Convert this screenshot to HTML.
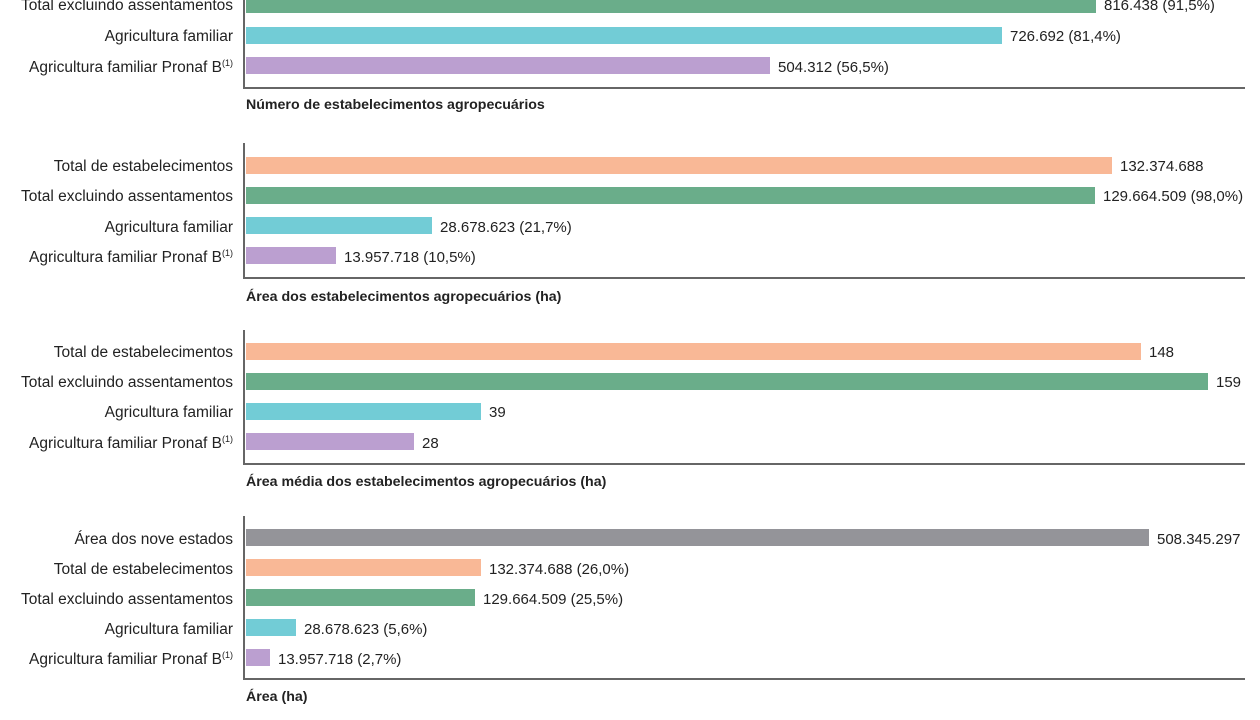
<!DOCTYPE html>
<html><head><meta charset="utf-8"><style>
body{margin:0;width:1260px;height:720px;background:#fff;position:relative;overflow:hidden;font-family:"Liberation Sans",sans-serif;color:#222;}
.l{position:absolute;right:1027px;font-size:15.5px;line-height:18px;white-space:nowrap;}
.b{position:absolute;left:246px;height:17px;}
.v{position:absolute;font-size:15px;line-height:18px;white-space:nowrap;}
.ax{position:absolute;background:#666;}
.t{position:absolute;left:246px;font-size:14.2px;font-weight:bold;white-space:nowrap;}
sup{font-size:9px;vertical-align:6px;line-height:0}
.o{background:#f9b896}.g{background:#6aad8a}.c{background:#72ccd6}.p{background:#bb9fd0}.gr{background:#949499}
</style></head><body>
<div class="ax" style="left:243px;top:0;width:2px;height:89px"></div>
<div class="ax" style="left:243px;top:87px;width:1002px;height:2px"></div>
<div class="l" style="top:-3px">Total excluindo assentamentos</div><div class="b g" style="top:-4px;width:850px"></div><div class="v" style="left:1104px;top:-3px">816.438 (91,5%)</div>
<div class="l" style="top:28px">Agricultura familiar</div><div class="b c" style="top:27px;width:756px"></div><div class="v" style="left:1010px;top:28px">726.692 (81,4%)</div>
<div class="l" style="top:59px">Agricultura familiar Pronaf B<sup>(1)</sup></div><div class="b p" style="top:57px;width:524px"></div><div class="v" style="left:778px;top:59px">504.312 (56,5%)</div>
<div class="t" style="top:97px">Número de estabelecimentos agropecuários</div>

<div class="ax" style="left:243px;top:143px;width:2px;height:136px"></div>
<div class="ax" style="left:243px;top:277px;width:1002px;height:2px"></div>
<div class="l" style="top:158px">Total de estabelecimentos</div><div class="b o" style="top:157px;width:866px"></div><div class="v" style="left:1120px;top:158px">132.374.688</div>
<div class="l" style="top:188px">Total excluindo assentamentos</div><div class="b g" style="top:187px;width:849px"></div><div class="v" style="left:1103px;top:188px">129.664.509 (98,0%)</div>
<div class="l" style="top:219px">Agricultura familiar</div><div class="b c" style="top:217px;width:186px"></div><div class="v" style="left:440px;top:219px">28.678.623 (21,7%)</div>
<div class="l" style="top:249px">Agricultura familiar Pronaf B<sup>(1)</sup></div><div class="b p" style="top:247px;width:90px"></div><div class="v" style="left:344px;top:249px">13.957.718 (10,5%)</div>
<div class="t" style="top:289px">Área dos estabelecimentos agropecuários (ha)</div>

<div class="ax" style="left:243px;top:330px;width:2px;height:135px"></div>
<div class="ax" style="left:243px;top:463px;width:1002px;height:2px"></div>
<div class="l" style="top:344px">Total de estabelecimentos</div><div class="b o" style="top:343px;width:895px"></div><div class="v" style="left:1149px;top:344px">148</div>
<div class="l" style="top:374px">Total excluindo assentamentos</div><div class="b g" style="top:373px;width:962px"></div><div class="v" style="left:1216px;top:374px">159</div>
<div class="l" style="top:404px">Agricultura familiar</div><div class="b c" style="top:403px;width:235px"></div><div class="v" style="left:489px;top:404px">39</div>
<div class="l" style="top:435px">Agricultura familiar Pronaf B<sup>(1)</sup></div><div class="b p" style="top:433px;width:168px"></div><div class="v" style="left:422px;top:435px">28</div>
<div class="t" style="top:474px">Área média dos estabelecimentos agropecuários (ha)</div>

<div class="ax" style="left:243px;top:516px;width:2px;height:164px"></div>
<div class="ax" style="left:243px;top:678px;width:1002px;height:2px"></div>
<div class="l" style="top:531px">Área dos nove estados</div><div class="b gr" style="top:529px;width:903px"></div><div class="v" style="left:1157px;top:531px">508.345.297</div>
<div class="l" style="top:561px">Total de estabelecimentos</div><div class="b o" style="top:559px;width:235px"></div><div class="v" style="left:489px;top:561px">132.374.688 (26,0%)</div>
<div class="l" style="top:591px">Total excluindo assentamentos</div><div class="b g" style="top:589px;width:229px"></div><div class="v" style="left:483px;top:591px">129.664.509 (25,5%)</div>
<div class="l" style="top:621px">Agricultura familiar</div><div class="b c" style="top:619px;width:50px"></div><div class="v" style="left:304px;top:621px">28.678.623 (5,6%)</div>
<div class="l" style="top:651px">Agricultura familiar Pronaf B<sup>(1)</sup></div><div class="b p" style="top:649px;width:24px"></div><div class="v" style="left:278px;top:651px">13.957.718 (2,7%)</div>
<div class="t" style="top:689px">Área (ha)</div>
</body></html>
